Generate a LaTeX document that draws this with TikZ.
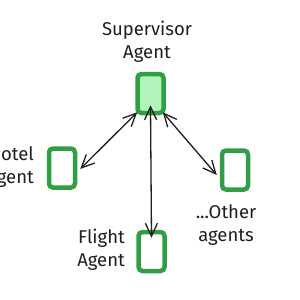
\documentclass[tikz,border=0pt]{standalone}
\usepackage{fontspec}
\setmainfont{Fira Sans}
\usetikzlibrary{arrows.meta}
\definecolor{gstroke}{HTML}{2F9E44}
\definecolor{gfill}{HTML}{B2F2BB}
\definecolor{ink}{HTML}{1E1E1E}
\begin{document}
\begin{tikzpicture}[x=1pt,y=-1pt,
  agentbox/.style={draw=gstroke,line width=4.5pt,rounded corners=4pt,minimum width=26pt,minimum height=39pt,inner sep=0pt},
  lbl/.style={text=ink,font=\fontsize{18.5}{22.5}\selectfont,inner sep=0pt},
  conn/.style={draw=ink,line width=1.3pt,{Straight Barb[length=13pt,width=12pt]}-{Straight Barb[length=13pt,width=12pt]}}]
\useasboundingbox (0,0) rectangle (300,300);
\node[agentbox,fill=gfill] (sup) at (150.5,93.5) {};
\node[agentbox] (hotel) at (62,168) {};
\node[agentbox] (flight) at (151.5,251.5) {};
\node[agentbox] (other) at (235,170) {};
\node[lbl,align=center] (suplbl) at (147,42) {Supervisor\\Agent};
\node[lbl,align=right,anchor=east] (hotellbl) at (34,167) {Hotel\\Agent};
\node[lbl,align=right,anchor=east] (flightlbl) at (125,250) {Flight\\Agent};
\node[lbl,align=center] (otherlbl) at (226,225) {...Other\\agents};
\draw[conn] ([xshift=2pt,yshift=3pt]sup.south west) -- ([xshift=3pt,yshift=-1pt]hotel.east);
\draw[conn] ([yshift=10pt]sup.south) -- ([yshift=-8pt]flight.north);
\draw[conn] ([xshift=-3pt,yshift=3pt]sup.south east) -- ([xshift=-3pt,yshift=-5pt]other.west);
\end{tikzpicture}
\end{document}
